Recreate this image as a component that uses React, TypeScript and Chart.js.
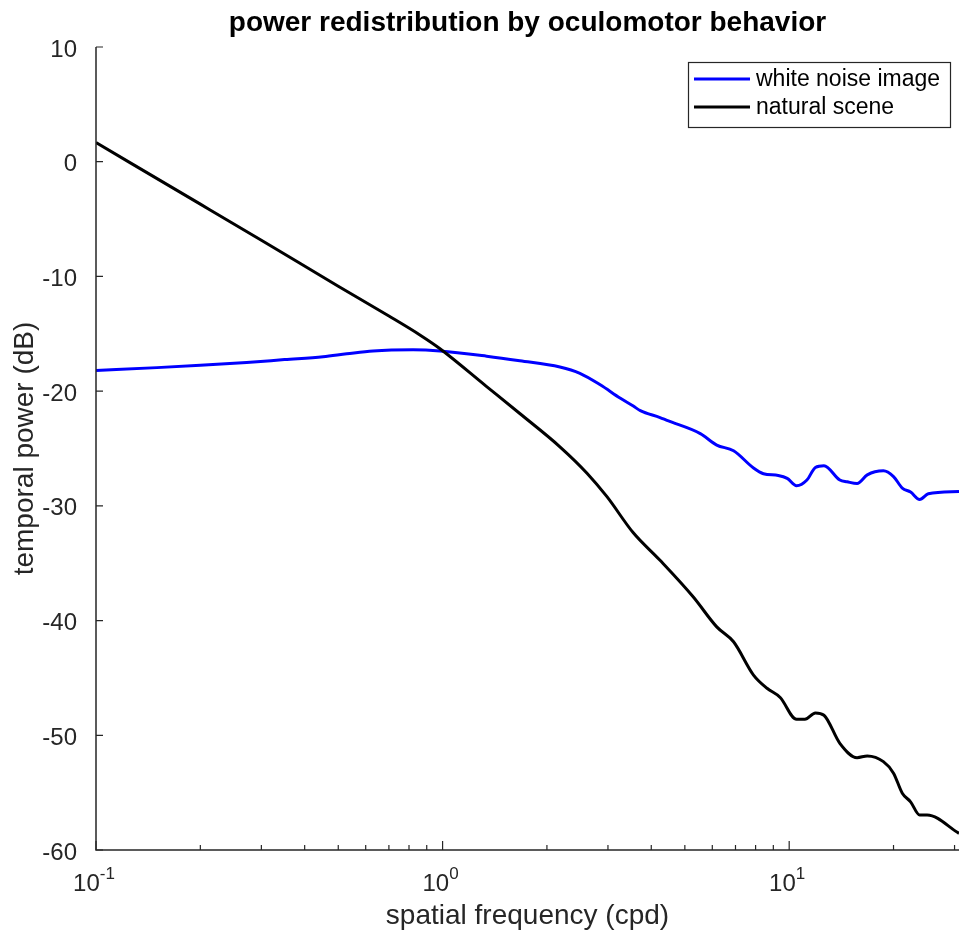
import { useEffect, useRef } from "react";
import { Chart, registerables } from "chart.js";

Chart.register(...registerables);

const FONT = '"Liberation Sans", Arial, Helvetica, sans-serif';
const AXIS_COLOR = "#262626";

const chartTitle = "power redistribution by oculomotor behavior";
const xAxisTitle = "spatial frequency (cpd)";
const yAxisTitle = "temporal power (dB)";
const seriesNames = ["white noise image", "natural scene"];
const seriesColors = ["#0000ff", "#000000"];

// axis ranges
const xMin = 0.1;
const xMax = 30.9;
const yMin = -60;
const yMax = 10;
const yStep = 10;

// logarithmic x ticks: decades get a "10^n" label, the rest are minor marks
const xMajorTicks = [0.1, 1, 10];
const xMajorBase = "10";
const xMajorExponents = ["-1", "0", "1"];
const xMinorTicks = [0.2, 0.3, 0.4, 0.5, 0.6, 0.7, 0.8, 0.9, 2, 3, 4, 5, 6, 7, 8, 9, 20, 30];

// white noise image: spatial frequency (cpd) and temporal power (dB)
const whiteNoiseFreq = [
  0.1, 0.15, 0.2, 0.272, 0.35, 0.452, 0.529, 0.63, 0.822, 0.983, 1.34, 1.67, 2.18, 2.49, 2.85,
  3.25, 3.55, 3.72, 4.24, 4.44, 5.54, 6.18, 6.91, 7.89, 8.43, 9.3, 9.87, 10.5, 11.25, 11.9,
  12.6, 14.0, 14.7, 15.7, 16.8, 18.7, 20.0, 21.2, 22.4, 23.8, 25.2, 30.9,
];
const whiteNoisePower = [
  -18.2, -17.95, -17.75, -17.5, -17.25, -17.0, -16.75, -16.5, -16.4, -16.5, -16.95, -17.35, -17.9, -18.45, -19.45,
  -20.6, -21.3, -21.7, -22.3, -22.55, -23.7, -24.7, -25.2, -26.7, -27.2, -27.35, -27.6, -28.25, -27.75, -26.65,
  -26.5, -27.75, -27.9, -28.05, -27.3, -26.95, -27.45, -28.45, -28.8, -29.45, -28.95, -28.75,
];

// natural scene: spatial frequency (cpd) and temporal power (dB)
const naturalFreq = [
  0.1, 0.2, 0.3, 0.5, 0.7, 0.86, 0.983, 1.34, 1.67, 2.18, 2.61, 2.98, 3.55, 4.24, 5.29,
  6.18, 6.91, 7.89, 8.63, 9.42, 10.5, 11.1, 11.9, 12.6, 14.0, 15.7, 16.8, 18.7, 20.0, 21.2,
  22.4, 23.8, 25.0, 30.9,
];
const naturalPower = [
  1.67, -3.7, -6.85, -10.85, -13.45, -15.1, -16.3, -19.6, -21.95, -24.85, -27.15, -29.2, -32.35, -34.75, -37.95,
  -40.55, -41.85, -44.75, -45.9, -46.7, -48.6, -48.6, -48.05, -48.25, -50.7, -51.95, -51.8, -52.3, -53.3, -55.05,
  -55.8, -56.95, -56.95, -58.55,
];

const font = (size: number, weight = "normal") => `${weight} ${size}px ${FONT}`;

// Box-style axes with inward ticks, superscripted decade labels and a framed legend
const matlabAxes = {
  id: "matlabAxes",
  afterDatasetsDraw(chart: any) {
    const { ctx, chartArea: a, scales } = chart;
    const xs = scales.x;
    const ys = scales.y;
    ctx.save();
    ctx.strokeStyle = AXIS_COLOR;

    // axis lines
    ctx.lineWidth = 1.5;
    ctx.beginPath();
    ctx.moveTo(a.left, a.top);
    ctx.lineTo(a.left, a.bottom);
    ctx.lineTo(a.right, a.bottom);
    ctx.stroke();

    // y ticks (inward)
    ctx.lineWidth = 1.2;
    ctx.beginPath();
    for (let v = yMin; v <= yMax; v += yStep) {
      const py = ys.getPixelForValue(v);
      ctx.moveTo(a.left, py);
      ctx.lineTo(a.left + 7, py);
    }
    // x ticks (inward)
    for (const v of xMajorTicks) {
      const px = xs.getPixelForValue(v);
      ctx.moveTo(px, a.bottom);
      ctx.lineTo(px, a.bottom - 9);
    }
    for (const v of xMinorTicks) {
      if (v > xMax) continue;
      const px = xs.getPixelForValue(v);
      ctx.moveTo(px, a.bottom);
      ctx.lineTo(px, a.bottom - 5);
    }
    ctx.stroke();

    // decade labels 10^n
    ctx.fillStyle = AXIS_COLOR;
    ctx.textBaseline = "alphabetic";
    ctx.textAlign = "left";
    xMajorTicks.forEach((v, i) => {
      const px = xs.getPixelForValue(v);
      ctx.font = font(24);
      const wb = ctx.measureText(xMajorBase).width;
      ctx.font = font(17);
      const we = ctx.measureText(xMajorExponents[i]).width;
      const x0 = px - (wb + we) / 2 - 2;
      ctx.font = font(24);
      ctx.fillText(xMajorBase, x0, a.bottom + 41);
      ctx.font = font(17);
      ctx.fillText(xMajorExponents[i], x0 + wb, a.bottom + 29);
    });
    ctx.restore();
  },
  afterDraw(chart: any) {
    const { ctx } = chart;
    ctx.save();
    // legend frame
    const lx = 688, ly = 62, lw = 262, lh = 65;
    ctx.fillStyle = "#ffffff";
    ctx.fillRect(lx, ly, lw, lh);
    ctx.strokeStyle = AXIS_COLOR;
    ctx.lineWidth = 1.2;
    ctx.strokeRect(lx + 0.5, ly + 0.5, lw, lh);
    const rows = [79, 107];
    seriesNames.forEach((name, i) => {
      ctx.strokeStyle = seriesColors[i];
      ctx.lineWidth = 3;
      ctx.beginPath();
      ctx.moveTo(lx + 6, rows[i]);
      ctx.lineTo(lx + 62, rows[i]);
      ctx.stroke();
      ctx.fillStyle = "#000000";
      ctx.font = font(23);
      ctx.textBaseline = "middle";
      ctx.textAlign = "left";
      ctx.fillText(name, lx + 68, rows[i] + 1);
    });
    ctx.restore();
  },
};

export default function App() {
  const canvasRef = useRef<HTMLCanvasElement>(null);

  useEffect(() => {
    const canvas = canvasRef.current;
    if (!canvas) return;
    Chart.defaults.font.family = FONT;

    const chart = new Chart(canvas, {
      type: "line",
      data: {
        datasets: [
          {
            label: seriesNames[0],
            data: whiteNoiseFreq.map((f, i) => ({ x: f, y: whiteNoisePower[i] })),
            borderColor: seriesColors[0],
            backgroundColor: seriesColors[0],
            borderWidth: 3,
            pointRadius: 0,
            cubicInterpolationMode: "monotone",
            order: 1,
          },
          {
            label: seriesNames[1],
            data: naturalFreq.map((f, i) => ({ x: f, y: naturalPower[i] })),
            borderColor: seriesColors[1],
            backgroundColor: seriesColors[1],
            borderWidth: 3,
            pointRadius: 0,
            cubicInterpolationMode: "monotone",
            order: 0,
          },
        ],
      },
      options: {
        animation: false,
        responsive: true,
        maintainAspectRatio: false,
        events: [],
        layout: { padding: 0 },
        plugins: {
          legend: { display: false },
          tooltip: { enabled: false },
          title: {
            display: true,
            text: chartTitle,
            fullSize: false,
            color: "#000000",
            font: { family: FONT, size: 28, weight: "bold", lineHeight: 1.2 },
            padding: { top: 6, bottom: 7.4 },
          },
        },
        scales: {
          x: {
            type: "logarithmic",
            min: xMin,
            max: xMax,
            grid: { display: false },
            border: { display: false },
            ticks: { display: false },
            title: {
              display: true,
              text: xAxisTitle,
              color: AXIS_COLOR,
              font: { family: FONT, size: 28, lineHeight: 1.2 },
              padding: { top: 0, bottom: 3 },
            },
            afterFit: (scale: any) => {
              scale.height = 86;
            },
          },
          y: {
            type: "linear",
            min: yMin,
            max: yMax,
            grid: { display: false },
            border: { display: false },
            ticks: {
              stepSize: yStep,
              color: AXIS_COLOR,
              font: { family: FONT, size: 24 },
              padding: 11,
              labelOffset: 3,
            },
            title: {
              display: true,
              text: yAxisTitle,
              color: AXIS_COLOR,
              font: { family: FONT, size: 28, lineHeight: 1.2 },
              padding: { top: 8, bottom: 0 },
            },
            afterFit: (scale: any) => {
              scale.width = 96;
            },
          },
        },
      },
      plugins: [matlabAxes],
    });

    return () => chart.destroy();
  }, []);

  return (
    <div style={{ position: "absolute", left: 0, top: 0, width: 959, height: 936, background: "#ffffff" }}>
      <canvas ref={canvasRef} />
    </div>
  );
}
